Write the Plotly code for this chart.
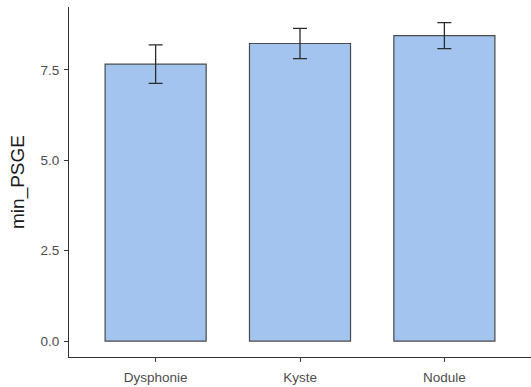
import plotly.graph_objects as go

categories = ["Dysphonie", "Kyste", "Nodule"]
means = [7.66, 8.23, 8.45]
errors = [0.53, 0.42, 0.36]
y_ticks = [0.0, 2.5, 5.0, 7.5]
y_tick_labels = ["0.0", "2.5", "5.0", "7.5"]

fig = go.Figure()
fig.add_trace(go.Bar(
    x=[1, 2, 3], y=means, width=0.7,
    marker=dict(color="#A4C4F0", line=dict(color="#4a4a4a", width=1.2)),
    error_y=dict(type="data", array=errors, color="#2b2b2b", thickness=1.3, width=7),
))

fig.update_layout(
    width=531, height=387,
    margin=dict(l=69, r=0, t=7, b=30),
    plot_bgcolor="white", paper_bgcolor="white",
    showlegend=False,
    font=dict(family="Liberation Sans, Arial, sans-serif"),
)
fig.update_xaxes(
    range=[0.4, 3.6], tickvals=[1, 2, 3], ticktext=categories,
    showline=True, linecolor="#333333", linewidth=1.2,
    ticks="outside", ticklen=4, tickcolor="#333333", tickwidth=1.2,
    showgrid=False, zeroline=False, automargin=False,
    ticklabelstandoff=4,
    tickfont=dict(size=13.5, color="#4d4d4d"),
)
fig.update_yaxes(
    range=[-0.44, 9.24], tickvals=y_ticks, ticktext=y_tick_labels,
    showline=True, linecolor="#333333", linewidth=1.2,
    ticks="outside", ticklen=4, tickcolor="#333333", tickwidth=1.2,
    showgrid=False, zeroline=False, automargin=False,
    ticklabelstandoff=2,
    tickfont=dict(size=13.5, color="#4d4d4d"),
    title=dict(text="min_PSGE", font=dict(size=19, color="#1a1a1a"), standoff=10),
)
fig.write_html(
    "out.html",
    config={"displayModeBar": False},
    post_script="document.body.style.margin='0';document.body.style.overflow='hidden';",
)
